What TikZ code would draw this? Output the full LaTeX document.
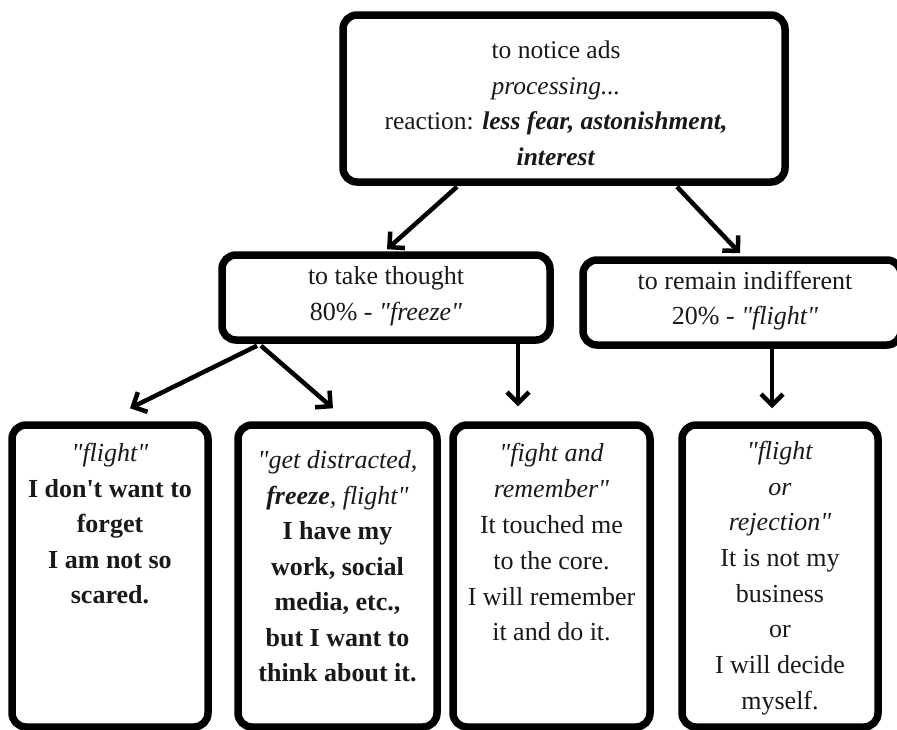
\documentclass[tikz,border=0pt]{standalone}
\usepackage{fontspec}
\setmainfont{Liberation Serif}[Ligatures=TeXOff]
\usetikzlibrary{arrows.meta,calc}
\begin{document}
\begin{tikzpicture}[x=1pt,y=-1pt,
  boxst/.style={draw=black,line width=7.5pt,rounded corners=14pt,fill=white,inner sep=0pt},
  txt/.style={align=center,inner sep=0pt,text=black!90},
  arr/.style={line width=4.5pt,-{Straight Barb[length=11pt,width=22pt,line width=4.5pt]}}
]
\useasboundingbox[fill=white] (0,0) rectangle (897,729);
% boxes
\node[boxst,minimum width=442pt,minimum height=167pt] (top) at (564,98.5) {};
\node[boxst,minimum width=328pt,minimum height=85pt] (midL) at (386,297.5) {};
\node[boxst,minimum width=318pt,minimum height=85pt] (midR) at (742,302.5) {};
\node[boxst,minimum width=196pt,minimum height=302pt] (b1) at (110,576) {};
\node[boxst,minimum width=199pt,minimum height=302pt] (b2) at (337.5,576) {};
\node[boxst,minimum width=197pt,minimum height=302pt] (b3) at (551.5,576) {};
\node[boxst,minimum width=196pt,minimum height=302pt] (b4) at (780,576) {};
% texts
\node[txt,font=\fontsize{25.5}{35.5}\selectfont] (ttop) at (556,103.5)
 {to notice ads\\ \textit{processing...}\\ reaction: \textbf{\textit{less fear, astonishment,}}\\ \textbf{\textit{interest}}};
\node[txt,font=\fontsize{26}{36}\selectfont] (tmidL) at (386,296)
 {to take thought\\ 80\% - \textit{"freeze"}};
\node[txt,font=\fontsize{26}{35}\selectfont] (tmidR) at (745,301)
 {to remain indifferent\\ 20\% - \textit{"flight"}};
\node[txt,font=\fontsize{26}{35.5}\selectfont] (tb1) at (110,524)
 {\textit{"flight"}\\ \textbf{I don't want to}\\ \textbf{forget}\\ \textbf{I am not so}\\ \textbf{scared.}};
\node[txt,font=\fontsize{26}{35.5}\selectfont] (tb2) at (337.5,566.5)
 {\textit{"get distracted,}\\ \textit{\textbf{freeze}, flight"}\\ \textbf{I have my}\\ \textbf{work, social}\\ \textbf{media, etc.,}\\ \textbf{but I want to}\\ \textbf{think about it.}};
\node[txt,font=\fontsize{26}{35.8}\selectfont] (tb3) at (551.5,542.5)
 {\textit{"fight and}\\ \textit{remember"}\\ It touched me\\ to the core.\\ I will remember\\ it and do it.};
\node[txt,font=\fontsize{26}{35.7}\selectfont] (tb4) at (780,578)
 {\textit{"flight}\\ \textit{or}\\ \textit{rejection"}\\ It is not my\\ business\\ or\\ I will decide\\ myself.};
% arrows
\draw[arr] ([xshift=-107pt,yshift=-1pt]top.south) -- ([xshift=1pt,yshift=2pt]midL.north);
\draw[arr] ([xshift=113pt,yshift=-1pt]top.south) -- ([xshift=-2pt,yshift=3pt]midR.north);
\draw[arr] ([xshift=-129pt,yshift=-2pt]midL.south) -- ([xshift=20pt,yshift=13pt]b1.north);
\draw[arr] ([xshift=-125pt,yshift=-2pt]midL.south) -- ([xshift=-4.5pt,yshift=13pt]b2.north);
\draw[arr] ([xshift=132pt,yshift=1pt]midL.south) -- ([xshift=-33.5pt,yshift=15pt]b3.north);
\draw[arr] ([xshift=30pt,yshift=1pt]midR.south) -- ([xshift=-8pt,yshift=13pt]b4.north);
\end{tikzpicture}
\end{document}
